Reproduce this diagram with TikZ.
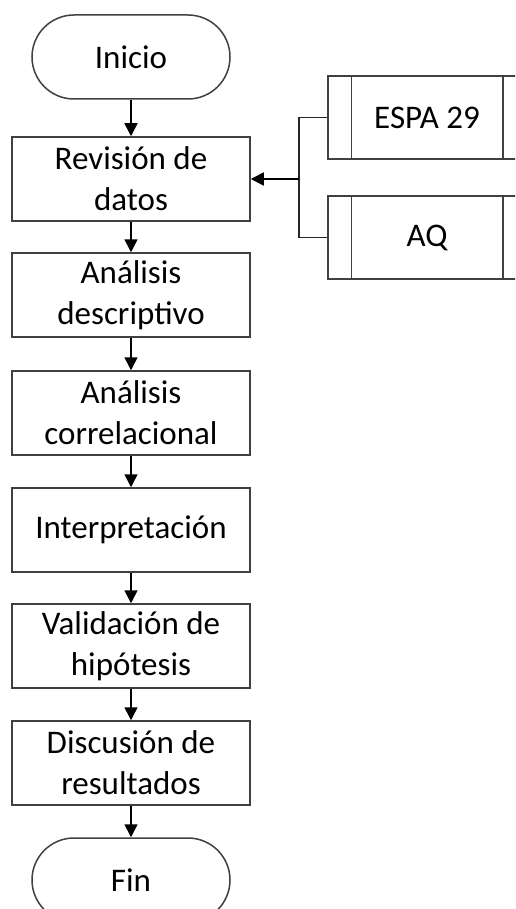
\documentclass[tikz,border=0pt]{standalone}
\usepackage{fontspec}
\setmainfont{Carlito}
\usetikzlibrary{arrows.meta,positioning}

\begin{document}
\begin{tikzpicture}[x=1pt, y=-1pt]

        % Styles of the boxes and of the arrows between them
        \tikzset{
            box/.style={draw=black!75, line width=1.5, fill=white,
                minimum width=238, minimum height=84, inner sep=0,
                align=center, font=\fontsize{33}{41}\selectfont},
            term/.style={box, minimum width=198, rounded corners=42},
            predef/.style={box, minimum width=198, minimum height=83},
            link/.style={-{Triangle[length=13,width=13]}, line width=1.5}
        }

        % Page of the same size as the reference, cut at its edges
        \useasboundingbox (0, 0) rectangle (515, 909);
        \clip (0, 0) rectangle (515, 909);

        % Main column of the flow
        \node[term] (inicio) at (131, 57) {Inicio};
        \node[box] (revision) at (131, 179) {Revisión de\\datos};
        \node[box] (descriptivo) at (131, 295) {Análisis\\descriptivo};
        \node[box] (correlacional) at (131, 413) {Análisis\\correlacional};
        \node[box] (interpretacion) at (131, 530) {Interpretación};
        \node[box] (validacion) at (131, 646) {Validación de\\hipótesis};
        \node[box] (discusion) at (131, 763) {Discusión de\\resultados};
        \node[term] (fin) at (131, 880) {Fin};

        % Data sources on the right, as predefined processes
        \node[predef] (espa) at (427, 117.5) {ESPA 29};
        \node[predef] (aq) at (427, 237.5) {AQ};
        \foreach \src in {espa, aq} {
            \draw[black!75, line width=1.5]
                ([xshift=24]\src.north west) -- ([xshift=24]\src.south west)
                ([xshift=-24]\src.north east) -- ([xshift=-24]\src.south east);
        }

        % Arrows down the column
        \begin{scope}[link]
            \draw (inicio) -- (revision);
            \draw (revision) -- (descriptivo);
            \draw (descriptivo) -- (correlacional);
            \draw (correlacional) -- (interpretacion);
            \draw (interpretacion) -- (validacion);
            \draw (validacion) -- (discusion);
            \draw (discusion) -- (fin);
        \end{scope}

        % Both sources join and feed the data review
        \coordinate (fork) at (299, 179);
        \draw[line width=1.2, black!85] (espa.west) -| (fork) |- (aq.west);
        \draw[link] (fork) -- (revision.east);

\end{tikzpicture}
\end{document}
